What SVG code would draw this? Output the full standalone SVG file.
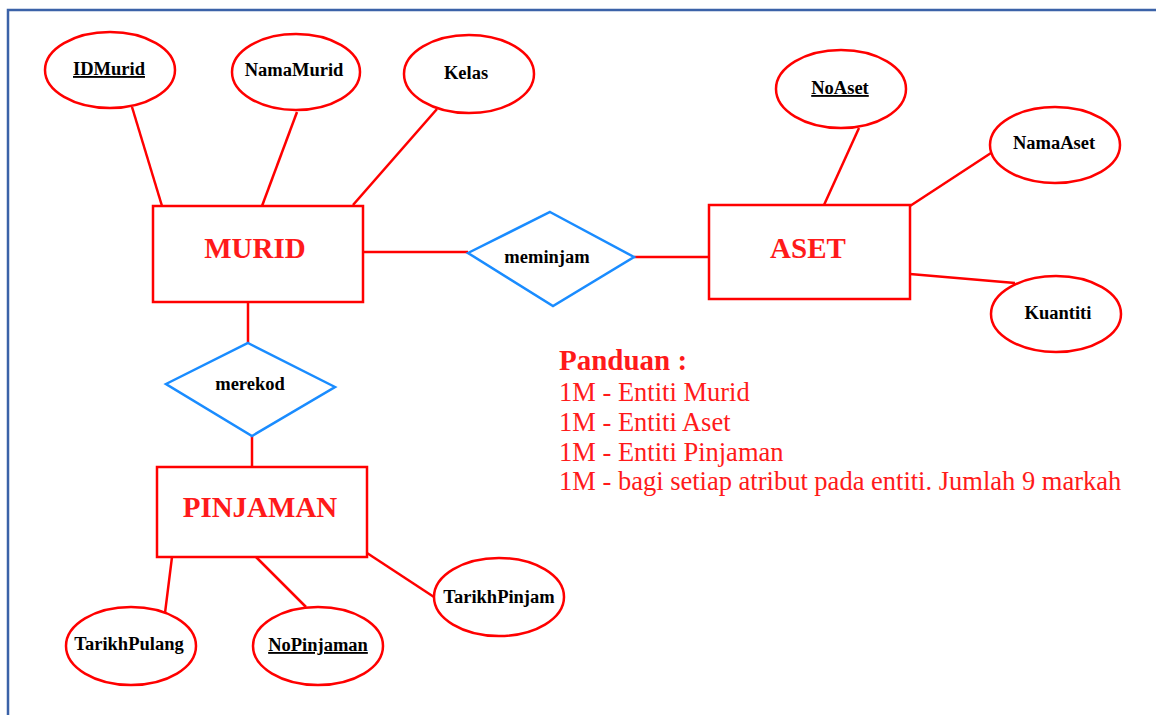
<svg xmlns="http://www.w3.org/2000/svg" width="1156" height="715" viewBox="0 0 1156 715">
<style>
.attr{fill:#fff;stroke:#ff0000;stroke-width:2.5}
.ent{fill:#fff;stroke:#ff0000;stroke-width:2.5}
.rel{fill:#fff;stroke:#1a8cff;stroke-width:2.5}
.lbl{font-family:'Liberation Serif','DejaVu Serif',serif;font-weight:bold;font-size:18.5px;fill:#000;text-anchor:middle}
.key{text-decoration:underline}
.etxt{font-family:'Liberation Serif','DejaVu Serif',serif;font-weight:bold;font-size:29px;fill:#ff1a1a;text-anchor:middle}
.note{font-family:'Liberation Serif','DejaVu Serif',serif;font-size:26.5px;fill:#ff1a1a}
.head{font-family:'Liberation Serif','DejaVu Serif',serif;font-size:29px;font-weight:bold;fill:#ff1a1a}
.conn line{stroke:#ff0000;stroke-width:2.5}
</style>
<rect x="0" y="0" width="1156" height="715" fill="#fff"/>
<rect x="8" y="10" width="1170" height="730" fill="none" stroke="#3b62a8" stroke-width="2.5"/>
<g id="connectors" class="conn">
<line x1="132" y1="107" x2="162" y2="206"/>
<line x1="297" y1="112" x2="262" y2="206"/>
<line x1="437" y1="109" x2="353" y2="205"/>
<line x1="363" y1="252" x2="468" y2="252"/>
<line x1="634" y1="257" x2="709" y2="257"/>
<line x1="859" y1="128" x2="824" y2="205"/>
<line x1="991" y1="153" x2="910" y2="206"/>
<line x1="910" y1="274" x2="1015" y2="283"/>
<line x1="248" y1="302" x2="248" y2="343"/>
<line x1="252" y1="436" x2="252" y2="467"/>
<line x1="172" y1="557" x2="165" y2="613"/>
<line x1="256" y1="557" x2="306" y2="607"/>
<line x1="367" y1="553" x2="434" y2="597"/>
</g>
<g id="IDMurid"><ellipse class="attr" cx="110" cy="70" rx="65" ry="38"/><text class="lbl key" x="109" y="75">IDMurid</text></g>
<g id="NamaMurid"><ellipse class="attr" cx="296" cy="72" rx="64" ry="38"/><text class="lbl" x="294" y="76">NamaMurid</text></g>
<g id="Kelas"><ellipse class="attr" cx="469" cy="74" rx="65" ry="39"/><text class="lbl" x="466" y="79">Kelas</text></g>
<g id="NoAset"><ellipse class="attr" cx="841" cy="89" rx="65" ry="39"/><text class="lbl key" x="840" y="94">NoAset</text></g>
<g id="NamaAset"><ellipse class="attr" cx="1055" cy="145" rx="65" ry="38"/><text class="lbl" x="1054" y="149">NamaAset</text></g>
<g id="Kuantiti"><ellipse class="attr" cx="1056" cy="314" rx="65" ry="38"/><text class="lbl" x="1058" y="319">Kuantiti</text></g>
<g id="MURID"><rect class="ent" x="153" y="206" width="210" height="96"/><text class="etxt" x="255" y="258">MURID</text></g>
<g id="ASET"><rect class="ent" x="709" y="205" width="201" height="94"/><text class="etxt" x="808" y="258">ASET</text></g>
<g id="PINJAMAN"><rect class="ent" x="157" y="467" width="210" height="90"/><text class="etxt" x="260" y="517">PINJAMAN</text></g>
<g id="meminjam"><polygon class="rel" points="550,212 634,257 553,306 468,253"/><text class="lbl" x="547" y="263">meminjam</text></g>
<g id="merekod"><polygon class="rel" points="248,343 335,387 252,436 166,384"/><text class="lbl" x="250" y="390">merekod</text></g>
<g id="TarikhPulang"><ellipse class="attr" cx="131" cy="646" rx="65" ry="39"/><text class="lbl" x="129" y="650">TarikhPulang</text></g>
<g id="NoPinjaman"><ellipse class="attr" cx="318" cy="646" rx="65" ry="39"/><text class="lbl key" x="318" y="651">NoPinjaman</text></g>
<g id="TarikhPinjam"><ellipse class="attr" cx="499" cy="597" rx="65" ry="39"/><text class="lbl" x="499" y="603">TarikhPinjam</text></g>
<g id="Panduan">
<text class="head" x="559" y="370">Panduan :</text>
<text class="note" x="559" y="401">1M - Entiti Murid</text>
<text class="note" x="559" y="431">1M - Entiti Aset</text>
<text class="note" x="559" y="461">1M - Entiti Pinjaman</text>
<text class="note" x="559" y="490">1M - bagi setiap atribut pada entiti. Jumlah 9 markah</text>
</g>
</svg>
